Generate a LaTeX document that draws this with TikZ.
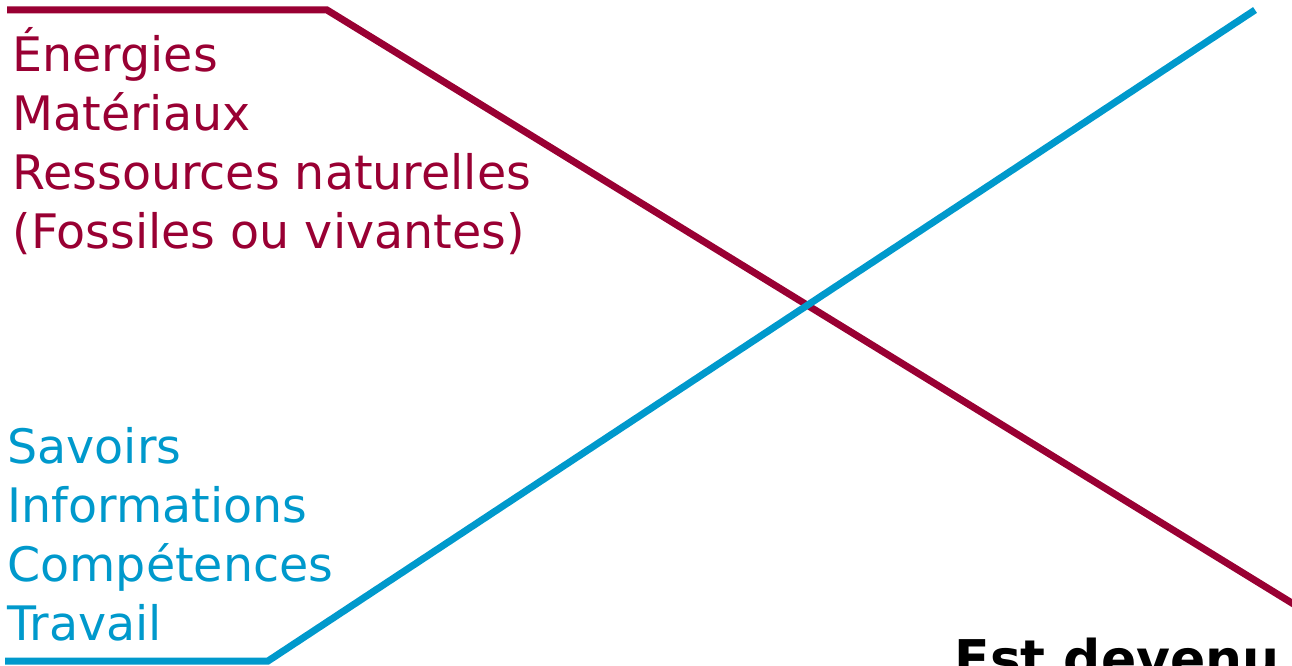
\documentclass[tikz,border=0pt]{standalone}
\usepackage{fontspec}
\setmainfont{DejaVu Sans}
\definecolor{bordeaux}{HTML}{990033}
\definecolor{cyan}{HTML}{0099CC}

\begin{document}
\begin{tikzpicture}[x=1pt,y=-1pt,line width=7pt,
    liste/.style={anchor=base west,inner sep=0pt,align=left,font=\fontsize{47.5}{59}\selectfont}]

            \useasboundingbox (0,0) rectangle (1292,666);
            \clip (0,0) rectangle (1292,666);

            \coordinate (r1) at (7,10);
            \coordinate (r2) at (327,10);
            \coordinate (r3) at (1300,608);
            \coordinate (b1) at (5,661);
            \coordinate (b2) at (268,661);
            \coordinate (b3) at (1255,10);

            % base = last line
            \node[liste, text=bordeaux] (res) at (9,248) {Énergies\\Matériaux\\Ressources naturelles\\(Fossiles ou vivantes)};
            \node[liste, text=cyan] (sav) at (4,640) {Savoirs\\Informations\\Compétences\\Travail};
            \node[anchor=base west, inner sep=0pt, font=\fontsize{52}{60}\selectfont\bfseries] (dev) at (951,677) {Est devenu};

            \draw[bordeaux] (r1) -- (r2) -- (r3);
            \draw[cyan] (b1) -- (b2) -- (b3);

\end{tikzpicture}
\end{document}
